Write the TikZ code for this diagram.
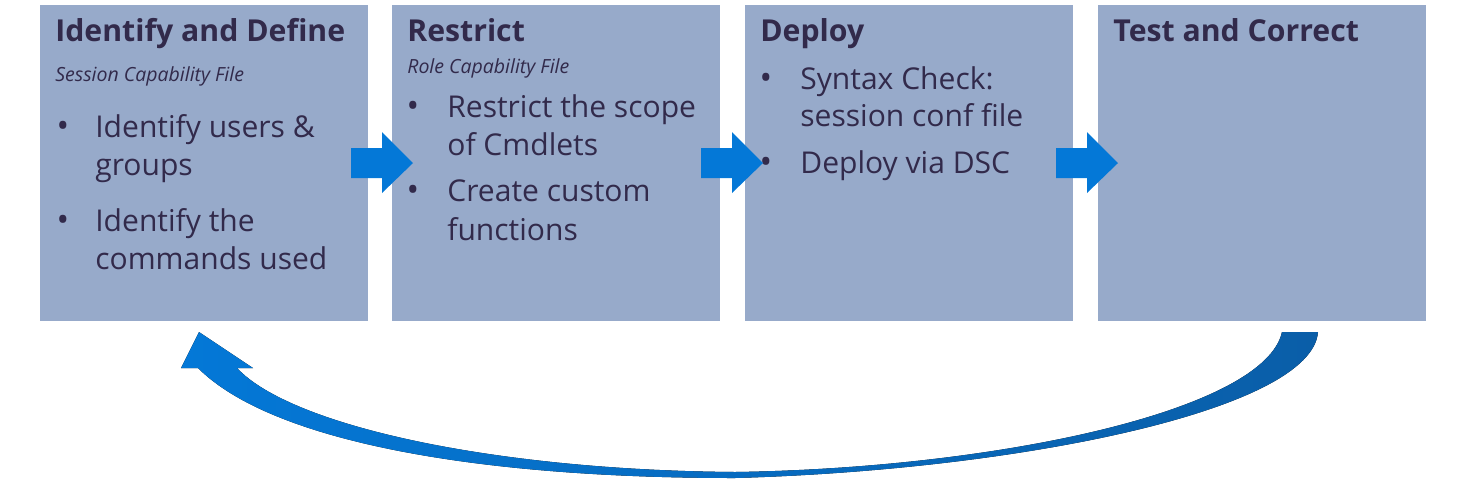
\documentclass[tikz,border=0pt]{standalone}
\usepackage{fontspec}
\setmainfont{Open Sans}
\definecolor{boxfill}{RGB}{151,170,202}
\definecolor{txt}{RGB}{50,42,75}
\definecolor{arrowblue}{RGB}{4,120,215}
\definecolor{arrowdark}{RGB}{10,94,168}
\tikzset{
  stage/.style={fill=boxfill, draw=none, minimum width=328*0.02cm, minimum height=316*0.02cm, anchor=north west, inner sep=0pt},
  ttl/.style={anchor=base west, text=txt, font=\fontsize{17.2}{19}\selectfont\bfseries, inner sep=0pt},
  sub/.style={anchor=base west, text=txt, font=\fontsize{11.1}{13}\selectfont\itshape, inner sep=0pt},
  itm/.style={anchor=base west, text=txt, font=\fontsize{17.1}{19}\selectfont, inner sep=0pt},
  blt/.style={anchor=base, text=txt, font=\fontsize{19}{19}\selectfont, inner sep=0pt},
  flow/.style={fill=arrowblue, draw=none}
}
\begin{document}
\begin{tikzpicture}[x=0.02cm, y=-0.02cm]
\useasboundingbox (0,0) rectangle (1465,485);
% boxes
\node[stage] (b1) at (40,5) {};
\node[stage] (b2) at (392,5) {};
\node[stage] (b3) at (745,5) {};
\node[stage] (b4) at (1098,5) {};
% box 1
\node[ttl] (t1) at (55,41) {Identify and Define};
\node[sub] (s1) at (55,81) {Session Capability File};
\node[blt] (d11) at (63,137) {\textbullet};
\node[itm] (i11) at (95,137) {Identify users \&};
\node[itm] (i12) at (95,175) {groups};
\node[blt] (d12) at (63,231) {\textbullet};
\node[itm] (i13) at (95,231) {Identify the};
\node[itm] (i14) at (95,269) {commands used};
% box 2
\node[ttl] (t2) at (407,41) {Restrict};
\node[sub] (s2) at (407,73) {Role Capability File};
\node[blt] (d21) at (413,117) {\textbullet};
\node[itm] (i21) at (447,117) {Restrict the scope};
\node[itm] (i22) at (447,155) {of Cmdlets};
\node[blt] (d22) at (413,201) {\textbullet};
\node[itm] (i23) at (447,201) {Create custom};
\node[itm] (i24) at (447,240) {functions};
% box 3
\node[ttl] (t3) at (760,41) {Deploy};
\node[blt] (d31) at (766,89) {\textbullet};
\node[itm] (i31) at (800,89) {Syntax Check:};
\node[itm] (i32) at (800,126) {session conf file};
\node[blt] (d32) at (766,173) {\textbullet};
\node[itm] (i33) at (800,173) {Deploy via DSC};
% box 4
\node[ttl] (t4) at (1113,41) {Test and Correct};
% block arrows between boxes
\foreach \x/\n in {351/a1,701/a2,1056/a3}{
  \fill[flow] (\x,148) -- ++(31,0) -- ++(0,-16) -- ++(31,31) -- ++(-31,30) -- ++(0,-15) -- ++(-31,0) -- cycle;
}
% return arrow
\fill[left color=arrowblue, right color=arrowdark]
  (1282,332) -- (1318,332)
  .. controls (1312,410) and (1020,470) .. (735,478)
  .. controls (470,478) and (270,440) .. (198,368)
  -- (181,368) -- (199,332) -- (253,368) -- (237,368)
  .. controls (290,425) and (490,470) .. (735,472)
  .. controls (1000,468) and (1265,410) .. (1282,332) -- cycle;
\end{tikzpicture}
\end{document}
